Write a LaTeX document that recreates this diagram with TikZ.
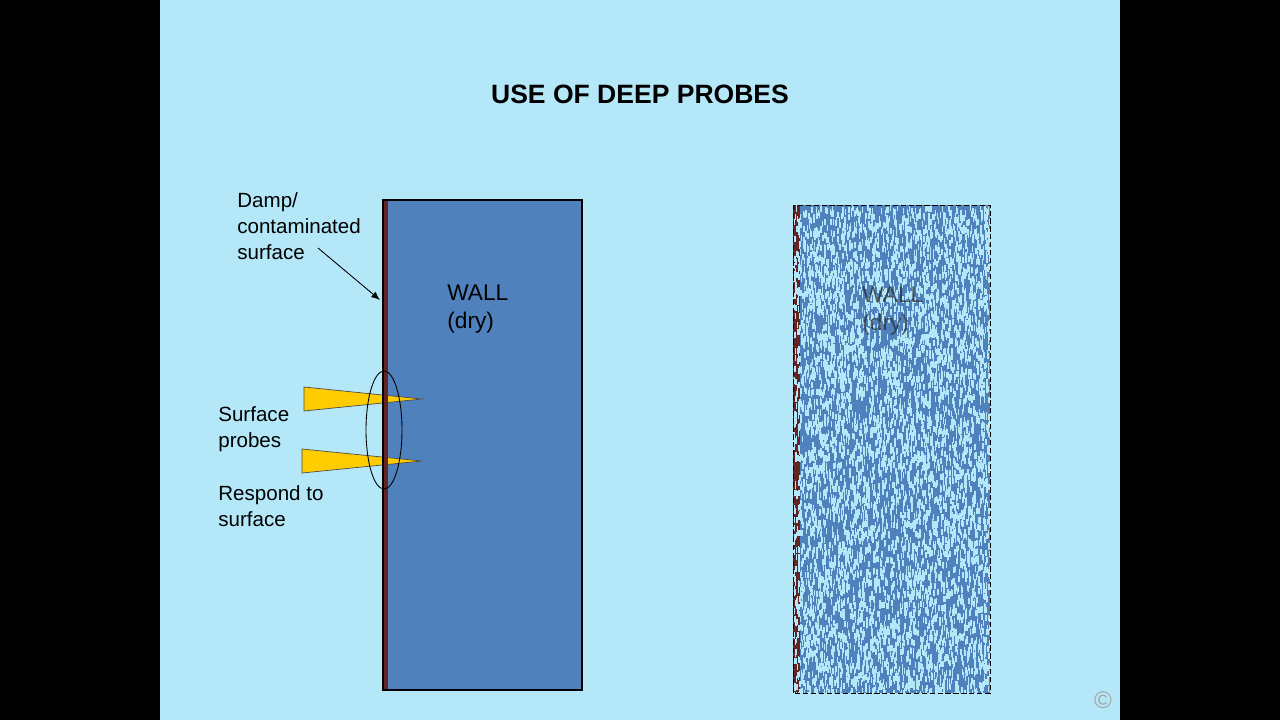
\documentclass[tikz,border=0pt]{standalone}
\usepackage{fontspec}
\setmainfont{Liberation Sans}
\usetikzlibrary{arrows.meta}
\definecolor{bglight}{RGB}{180,232,248}
\definecolor{wallblue}{RGB}{79,129,189}
\definecolor{damp}{RGB}{99,37,35}
\definecolor{probe}{RGB}{255,204,0}
\tikzset{
  lbl/.style={font=\fontsize{11.7}{14.7}\selectfont, align=left, inner sep=0pt, anchor=west},
  probeshape/.style={fill=probe, draw=black!70, line width=0.4pt},
}

\begin{document}
\begin{tikzpicture}[x=0.02cm, y=-0.02cm]
\useasboundingbox (0,0) rectangle (1280,720);
\fill[black] (0,0) rectangle (1280,720);
\fill[bglight] (160,0) rectangle (1120,720);

\node[font=\fontsize{15.1}{18}\selectfont\bfseries, inner sep=0pt] (title) at (640,94) {USE OF DEEP PROBES};

% Wall, left
\fill[wallblue] (383,200) rectangle (582,690);
\draw[probeshape] (304,387) -- (422,399) -- (304,411) -- cycle;
\draw[probeshape] (302,449) -- (422,461) -- (302,473) -- cycle;
\fill[damp] (383,200) rectangle (388,690);
\draw[line width=0.6pt] (383,200) rectangle (582,690);
\draw[line width=0.5pt] (384,430) ellipse (18 and 59);

\node[lbl] (dampnote) at (237,226) {Damp/\\contaminated\\surface};
\coordinate (arrowstart) at (318,248);
\coordinate (arrowend) at (380,300);
\draw[-{Latex[length=5pt,width=4pt]}, line width=0.5pt] (arrowstart) -- (arrowend);

\node[lbl, font=\fontsize{12.9}{16.4}\selectfont] (wallleft) at (447,309) {WALL\\(dry)};
\node[lbl] (surfprobes) at (218,429.5) {Surface\\probes};
\node[lbl] (respond) at (218,506.5) {Respond to\\surface};

% Wall, right (dissolving)
\begin{scope}
\clip (793,205) rectangle (990,693);
\fill[wallblue] (793,205) rectangle (990,693);
\fill[damp] (793,205) rectangle (800,693);
\pgfmathsetseed{17}
\foreach \i in {1,...,6500}{
  \pgfmathsetmacro\rx{793+197*rnd}
  \pgfmathsetmacro\ry{205+488*rnd}
  \fill[bglight] (\rx,\ry) rectangle ++(1.5,6);
}
\end{scope}
\draw[dashed, line width=0.5pt, dash pattern=on 3pt off 1.5pt] (793,205) rectangle (990,693);
\node[lbl, font=\fontsize{12.9}{16.4}\selectfont, text=black!85, opacity=0.7] (wallright) at (862,311) {WALL\\(dry)};

\node[font=\fontsize{13.7}{16}\selectfont, text=gray!70, inner sep=0pt] (copy) at (1103,700) {\textcopyright};
\end{tikzpicture}
\end{document}
